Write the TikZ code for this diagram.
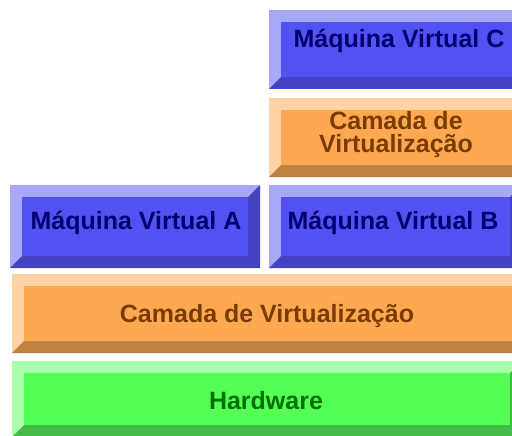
\documentclass[tikz,border=0pt]{standalone}
\usepackage{fontspec}
\setmainfont{Liberation Sans}
\usetikzlibrary{calc}

\definecolor{bluelight}{HTML}{A8A8F8}
\definecolor{blueface}{HTML}{5252F2}
\definecolor{bluedark}{HTML}{4242C2}
\definecolor{bluetext}{HTML}{00006E}
\definecolor{orangelight}{HTML}{FFD2A4}
\definecolor{orangeface}{HTML}{FFA852}
\definecolor{orangedark}{HTML}{C08042}
\definecolor{orangetext}{HTML}{7A3C00}
\definecolor{greenlight}{HTML}{AAFFAA}
\definecolor{greenface}{HTML}{55FF55}
\definecolor{greendark}{HTML}{44BB44}
\definecolor{greentext}{HTML}{007000}

% bevelled slab: #1 colour family, #2..#5 outer x1,y1,x2,y2 (y downwards)
\newcommand{\bevelslab}[5]{%
  \pgfmathsetmacro\bxa{#2+12}\pgfmathsetmacro\bya{#3+12}%
  \pgfmathsetmacro\bxb{#4-12}\pgfmathsetmacro\byb{#5-12}%
  \fill[#1light] (#2,#3) rectangle (#4,#5);
  \fill[#1dark] (#2,#5) -- (#4,#5) -- (#4,#3) -- (\bxb,\bya) -- (\bxb,\byb) -- (\bxa,\byb) -- cycle;
  \fill[#1face] (\bxa,\bya) rectangle (\bxb,\byb);
}

\tikzset{
  label/.style={font=\bfseries\fontsize{25}{24}\selectfont, inner sep=0pt, anchor=base, align=center},
  bluelabel/.style={label, text=bluetext},
  orangelabel/.style={label, text=orangetext},
  greenlabel/.style={label, text=greentext},
}

\begin{document}
\begin{tikzpicture}[x=1pt,y=-1pt]
\useasboundingbox (0,0) rectangle (512,436);
\clip (0,0) rectangle (512,436);

\bevelslab{blue}{269}{10}{526}{89}
\node[bluelabel] (vmc) at (399,48) {Máquina Virtual C};

\bevelslab{orange}{269}{98}{526}{177}
\node[orangelabel] (camadac) at (396,153) {Camada de\\Virtualização};

\bevelslab{blue}{10}{185}{260}{268}
\node[bluelabel] (vma) at (136,229) {Máquina Virtual A};

\bevelslab{blue}{269}{185}{522}{268}
\node[bluelabel] (vmb) at (393,229) {Máquina Virtual B};

\bevelslab{orange}{12}{274}{526}{353}
\node[orangelabel] (camada) at (267,322) {Camada de Virtualização};

\bevelslab{green}{12}{361}{522}{437}
\node[greenlabel] (hw) at (266,409) {Hardware};
\end{tikzpicture}
\end{document}
